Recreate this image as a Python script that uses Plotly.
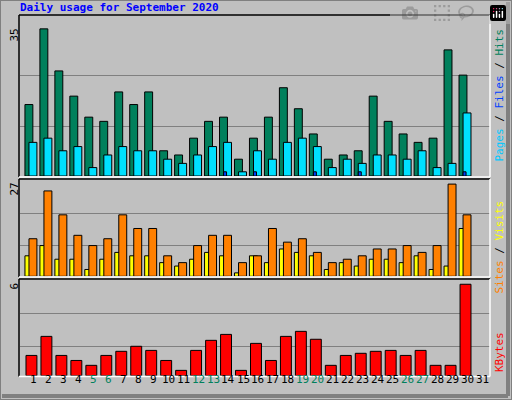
import plotly.graph_objects as go

days = list(range(1, 32))
day_labels = [str(d) for d in days]
weekend = [5, 6, 12, 13, 19, 20, 26, 27]
hits = [17,35,25,19,14,13,20,17,20,6,5,9,13,14,4,9,14,21,16,10,4,5,6,19,13,10,8,9,30,24,0]
files = [8,9,6,7,2,5,7,6,6,4,3,5,7,8,1,6,4,8,9,7,2,4,3,5,5,4,6,2,3,15,0]
pages = [0,0,0,0,0,0,0,0,0,0,0,0,0,1,0,1,0,0,0,1,0,0,1,0,0,0,0,0,0,1,0]
visits = [11,25,18,12,9,11,18,14,14,6,4,9,12,12,4,6,14,10,11,7,4,5,6,8,8,9,7,9,27,18,0]
sites = [6,9,5,5,2,5,7,6,6,4,3,5,7,6,1,6,4,8,7,6,2,4,3,5,5,4,6,2,3,14,0]
kbytes = [1.33,2.58,1.33,1.0,0.68,1.33,1.6,1.93,1.66,1.0,0.35,1.66,2.32,2.71,0.35,2.12,1.0,2.58,2.91,2.39,0.68,1.33,1.47,1.6,1.66,1.33,1.66,0.68,0.68,6.0,0]

W, H = 512, 400
def py(p):
    return 1 - p / H
def px(p):
    return p / W

fig = go.Figure()
line = dict(color="black", width=1)
def bar(y, color, off, wid, ax):
    yy = [v if v else None for v in y]
    fig.add_trace(go.Bar(x=days, y=yy, marker=dict(color=color, line=line), offset=off, width=wid,
                         xaxis="x" if ax == 1 else f"x{ax}", yaxis="y" if ax == 1 else f"y{ax}",
                         showlegend=False, hoverinfo="skip"))

bar(hits, "#00805c", -0.57, 0.53, 1)
bar(files, "#00e0ff", -0.3, 0.53, 1)
bar(pages, "#0040ff", -0.3, 0.2, 1)
bar(sites, "#ffff00", -0.57, 0.53, 2)
bar(visits, "#ff8000", -0.3, 0.53, 2)
bar(kbytes, "#ff0000", -0.5, 0.73, 3)

xd = [px(20), px(490)]
xcommon = dict(range=[0.1, 31.5], domain=xd, showgrid=False, zeroline=False, showticklabels=False,
               ticks="", fixedrange=True)
fig.update_layout(
    width=W, height=H, margin=dict(l=0, r=0, t=0, b=0),
    paper_bgcolor="#c0c0c0", plot_bgcolor="#c0c0c0", barmode="overlay",
    font=dict(family="DejaVu Sans Mono", size=11, color="black"),
    xaxis=dict(**xcommon, anchor="y"),
    xaxis2=dict(**xcommon, anchor="y2"),
    xaxis3=dict(**xcommon, anchor="y3"),
    yaxis=dict(domain=[py(176), py(15)], range=[0, 38.3], tickvals=[11.67, 23.8], showticklabels=False,
               gridcolor="#808080", zeroline=False, fixedrange=True),
    yaxis2=dict(domain=[py(276.3), py(180)], range=[0, 28.2], tickvals=[8.9, 18.5], showticklabels=False,
                gridcolor="#808080", zeroline=False, fixedrange=True),
    yaxis3=dict(domain=[py(375.7), py(280.3)], range=[0, 6.26], tickvals=[1.93, 4.1], showticklabels=False,
                gridcolor="#808080", zeroline=False, fixedrange=True),
)

shapes = []
shapes.append(dict(type="rect", xref="paper", yref="paper", x0=0, x1=1, y0=0, y1=1,
                   line=dict(color="#808080", width=2)))
shapes.append(dict(type="line", xref="paper", yref="paper", x0=px(508), x1=px(508), y0=py(396), y1=py(2),
                   line=dict(color="#808080", width=4)))
shapes.append(dict(type="line", xref="paper", yref="paper", x0=px(2), x1=px(508), y0=py(396), y1=py(396),
                   line=dict(color="#808080", width=4)))
for top, bot in [(15, 177), (179, 277), (279, 376.5)]:
    l, r = px(19), px(490)
    shapes += [
        dict(type="line", xref="paper", yref="paper", x0=l, x1=r, y0=py(top), y1=py(top), line=dict(color="black", width=1.5)),
        dict(type="line", xref="paper", yref="paper", x0=l, x1=l, y0=py(bot), y1=py(top), line=dict(color="black", width=1.5)),
        dict(type="line", xref="paper", yref="paper", x0=l, x1=r, y0=py(bot), y1=py(bot), line=dict(color="white", width=1.5)),
        dict(type="line", xref="paper", yref="paper", x0=r, x1=r, y0=py(bot), y1=py(top), line=dict(color="white", width=1.5)),
    ]
fig.update_layout(shapes=shapes)

ann = [dict(text="<b>Daily usage for September 2020</b>", x=px(18), y=py(16), xref="paper", yref="paper",
            xanchor="left", yanchor="bottom", showarrow=False, font=dict(color="#0000ff", size=11))]
for txt, ytop in [("35", 27), ("27", 181), ("6", 281)]:
    ann.append(dict(text=txt, x=px(14), y=py(ytop), xref="paper", yref="paper", textangle=-90,
                    xanchor="center", yanchor="top", showarrow=False, font=dict(size=11)))
ann.append(dict(text='<span style="color:#00c8ff">Pages</span> / <span style="color:#0040ff">Files</span> / <span style="color:#00805c">Hits</span>',
                x=px(499), y=py(27), xref="paper", yref="paper", textangle=-90, xanchor="center", yanchor="top",
                showarrow=False, font=dict(size=11, color="black")))
ann.append(dict(text='<span style="color:#ff8000">Sites</span> / <span style="color:#ffff00">Visits</span>',
                x=px(499), y=py(199), xref="paper", yref="paper", textangle=-90, xanchor="center", yanchor="top",
                showarrow=False, font=dict(size=11, color="black")))
ann.append(dict(text="KBytes", x=px(499), y=py(330), xref="paper", yref="paper", textangle=-90,
                xanchor="center", yanchor="top", showarrow=False, font=dict(size=11, color="#ff0000")))
for d, lab in zip(days, day_labels):
    ann.append(dict(text=lab, x=d, y=py(388), xref="x3", yref="paper", showarrow=False,
                    font=dict(size=11, color="#00805c" if d in weekend else "black")))
fig.update_layout(annotations=ann)

fig.write_html("out.html", post_script="document.body.style.margin='0';document.body.style.overflow='hidden';")
